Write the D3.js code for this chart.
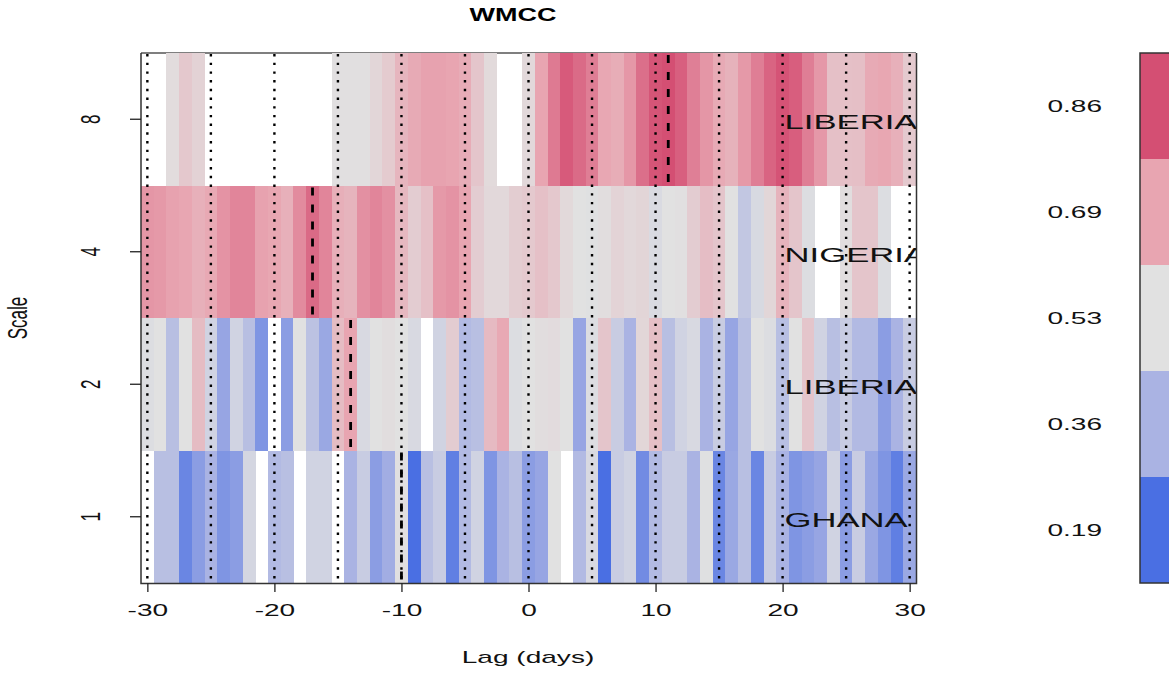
<!DOCTYPE html>
<html>
<head>
<meta charset="utf-8">
<script src="https://cdn.jsdelivr.net/npm/d3@7"></script>
<style>
  body { margin: 0; background: #fff; }
  svg { display: block; font-family: "Liberation Sans", Arial, sans-serif; }
</style>
</head>
<body>
<svg width="1169" height="673"></svg>
<script>
// wavelet multiple cross-correlation by scale and lag; null = no value (white)
const lags = d3.range(-30, 31);
const scales = ['1', '2', '4', '8'];
const countries = ['GHANA', 'LIBERIA', 'NIGERIA', 'LIBERIA'];
const peakLags = [-10, -14, -17, 11];

const scale1 = [null, 0.403, 0.403, 0.247, 0.305, 0.36, 0.284, 0.305, 0.49, null,
  0.385, 0.403, null, 0.477, 0.477, null, 0.36, 0.453, 0.305, 0.345,
  0.535, 0.19, 0.403, 0.453, 0.229, 0.385, 0.477, 0.284, 0.36, 0.403,
  0.305, 0.326, 0.53, null, 0.385, 0.502, 0.19, 0.453, 0.477, 0.26,
  0.385, 0.453, 0.453, 0.36, 0.525, 0.247, 0.332, 0.403, 0.247, 0.453,
  0.36, 0.284, 0.305, 0.326, 0.477, 0.305, 0.453, 0.332, 0.284, 0.229, 0.332];
const scale2 = [0.515, 0.53, 0.403, 0.53, 0.629, 0.477, 0.326, 0.477, 0.403, 0.284,
  null, 0.305, 0.53, 0.416, 0.332, 0.629, 0.69, 0.502, 0.53, 0.54,
  0.53, 0.502, null, 0.477, 0.585, 0.385, 0.403, 0.634, 0.68, 0.515,
  0.53, 0.54, 0.545, 0.53, 0.326, 0.515, 0.605, 0.453, 0.36, 0.559,
  0.62, 0.403, 0.477, 0.502, 0.36, 0.453, 0.326, 0.403, 0.53, 0.515,
  0.403, 0.53, 0.605, 0.477, 0.403, 0.453, 0.385, 0.385, 0.305, 0.36, 0.453];
const scale4 = [0.72, 0.714, 0.696, 0.688, 0.66, 0.68, 0.726, 0.753, 0.753, 0.696,
  0.685, 0.66, 0.741, 0.807, 0.753, 0.662, 0.65, 0.732, 0.753, 0.732,
  0.639, 0.585, 0.618, 0.714, 0.726, 0.69, 0.585, 0.554, 0.554, 0.583,
  0.594, 0.618, 0.597, 0.552, 0.53, 0.525, 0.54, 0.567, 0.554, 0.563,
  0.505, 0.53, 0.535, 0.585, 0.625, 0.605, 0.53, 0.434, 0.5, 0.559,
  0.653, 0.605, 0.515, null, null, 0.54, 0.605, 0.605, 0.515, null, null];
const scale8 = [null, null, 0.543, 0.597, 0.57, null, null, null, null, null,
  null, null, null, null, null, 0.535, 0.535, 0.535, 0.56, 0.59,
  0.647, 0.677, 0.696, 0.696, 0.69, 0.67, 0.605, 0.55, null, null,
  0.555, 0.69, 0.775, 0.838, 0.805, 0.767, 0.684, 0.669, 0.718, 0.797,
  0.848, 0.86, 0.828, 0.765, 0.72, 0.677, 0.655, 0.714, 0.767, 0.818,
  0.852, 0.83, 0.767, 0.716, 0.618, 0.618, 0.62, 0.677, 0.685, 0.66, 0.594];
const rows = [scale1, scale2, scale4, scale8];

const xTicks = [-30, -20, -10, 0, 10, 20, 30];
const gridLags = d3.range(-30, 31, 5);
const barLabels = ['0.19', '0.36', '0.53', '0.69', '0.86'];
const barValues = [0.19, 0.36, 0.53, 0.69, 0.86];
const barColors = ['#4a6fe3', '#aab3e3', '#e1e1e1', '#e8a5b1', '#d44f73'];

// the original picture is stretched sideways, text too
const sx = 1.65;

const svg = d3.select('svg');
const x = d3.scaleLinear().domain([-30.5, 30.5]).range([141, 916]);
const y = d3.scaleBand().domain(scales).range([583, 53]);
const color = d3.scaleLinear().domain(barValues).range(barColors).clamp(true);
const colW = x(1) - x(0);

// top frame line sits under the cells
svg.append('line')
  .attr('x1', 141).attr('x2', 916).attr('y1', 53).attr('y2', 53)
  .attr('stroke', '#555').attr('stroke-width', 1.5);

// cells
scales.forEach((s, i) => {
  svg.append('g')
    .selectAll('rect')
    .data(lags.map((l, j) => ({lag: l, v: rows[i][j]})).filter(d => d.v !== null))
    .enter()
    .append('rect')
    .attr('x', d => x(d.lag) - colW / 2)
    .attr('width', colW + 0.3)
    .attr('y', y(s))
    .attr('height', y.bandwidth())
    .attr('fill', d => color(d.v))
    .attr('shape-rendering', 'crispEdges');
});

// dotted grid every 5 days
svg.append('g')
  .selectAll('line')
  .data(gridLags)
  .enter()
  .append('line')
  .attr('x1', d => x(d)).attr('x2', d => x(d))
  .attr('y1', 54).attr('y2', 583)
  .attr('stroke', '#000')
  .attr('stroke-width', 2.4)
  .attr('stroke-dasharray', '2.4 6.3');

// dashed line at the peak lag of each scale
svg.append('g')
  .selectAll('line')
  .data(scales)
  .enter()
  .append('line')
  .attr('x1', (d, i) => x(peakLags[i])).attr('x2', (d, i) => x(peakLags[i]))
  .attr('y1', d => y(d) + 2).attr('y2', d => y(d) + y.bandwidth())
  .attr('stroke', '#000')
  .attr('stroke-width', 2.8)
  .attr('stroke-dasharray', '8 9');

// country labels, clipped at the plot edge
svg.append('clipPath').attr('id', 'plotclip')
  .append('rect').attr('x', 141).attr('y', 53).attr('width', 775).attr('height', 530);
svg.append('g')
  .attr('clip-path', 'url(#plotclip)')
  .selectAll('text')
  .data(scales)
  .enter()
  .append('text')
  .attr('transform', d => `translate(${x(20) + 2}, ${y(d) + y.bandwidth() / 2 + 10}) scale(${sx},1)`)
  .attr('font-size', 21)
  .attr('fill', '#111')
  .text((d, i) => countries[i]);

// frame on left, right and bottom
svg.append('path')
  .attr('d', 'M141,53V583.5H916.5V53')
  .attr('fill', 'none')
  .attr('stroke', '#333')
  .attr('stroke-width', 1.5);

// x axis, plain hyphen for negatives
const xAxis = svg.append('g')
  .attr('transform', 'translate(0, 583)')
  .call(d3.axisBottom(x).tickValues(xTicks).tickFormat(d => String(d)).tickSize(9).tickPadding(12));
xAxis.select('.domain').remove();
xAxis.selectAll('line').attr('stroke', '#222').attr('stroke-width', 1.3);
xAxis.selectAll('text')
  .attr('transform', `scale(${sx},1)`)
  .attr('font-size', 17)
  .attr('font-family', '"Liberation Sans", Arial, sans-serif')
  .attr('fill', '#111');

// y axis
svg.append('g')
  .selectAll('line')
  .data(scales)
  .enter()
  .append('line')
  .attr('x1', 130).attr('x2', 141)
  .attr('y1', d => y(d) + y.bandwidth() / 2).attr('y2', d => y(d) + y.bandwidth() / 2)
  .attr('stroke', '#222').attr('stroke-width', 1.3);
svg.append('g')
  .selectAll('text')
  .data(scales)
  .enter()
  .append('text')
  .attr('transform', d => `translate(100, ${y(d) + y.bandwidth() / 2}) scale(${sx},1) rotate(-90)`)
  .attr('text-anchor', 'middle')
  .attr('font-size', 17)
  .attr('fill', '#111')
  .text(d => d);

// titles
svg.append('text')
  .attr('transform', 'translate(513, 21) scale(1.5,1)')
  .attr('text-anchor', 'middle')
  .attr('font-size', 18)
  .attr('font-weight', 'bold')
  .text('WMCC');
svg.append('text')
  .attr('transform', `translate(528, 663) scale(${sx},1)`)
  .attr('text-anchor', 'middle')
  .attr('font-size', 17)
  .attr('fill', '#111')
  .text('Lag (days)');
svg.append('text')
  .attr('transform', `translate(27, 318) scale(${sx},1) rotate(-90)`)
  .attr('text-anchor', 'middle')
  .attr('font-size', 17)
  .attr('fill', '#111')
  .text('Scale');

// colour key
const kb = d3.scaleBand().domain(barLabels).range([583, 53]);
svg.append('g')
  .selectAll('rect')
  .data(barLabels)
  .enter()
  .append('rect')
  .attr('x', 1140).attr('width', 40)
  .attr('y', d => kb(d)).attr('height', kb.bandwidth())
  .attr('fill', (d, i) => barColors[i]);
svg.append('rect')
  .attr('x', 1140).attr('y', 53).attr('width', 40).attr('height', 530)
  .attr('fill', 'none').attr('stroke', '#333').attr('stroke-width', 1.5);
svg.append('g')
  .selectAll('text')
  .data(barLabels)
  .enter()
  .append('text')
  .attr('transform', d => `translate(1102, ${kb(d) + kb.bandwidth() / 2 + 6}) scale(${sx},1)`)
  .attr('text-anchor', 'end')
  .attr('font-size', 17)
  .attr('fill', '#111')
  .text(d => d);
</script>
</body>
</html>
